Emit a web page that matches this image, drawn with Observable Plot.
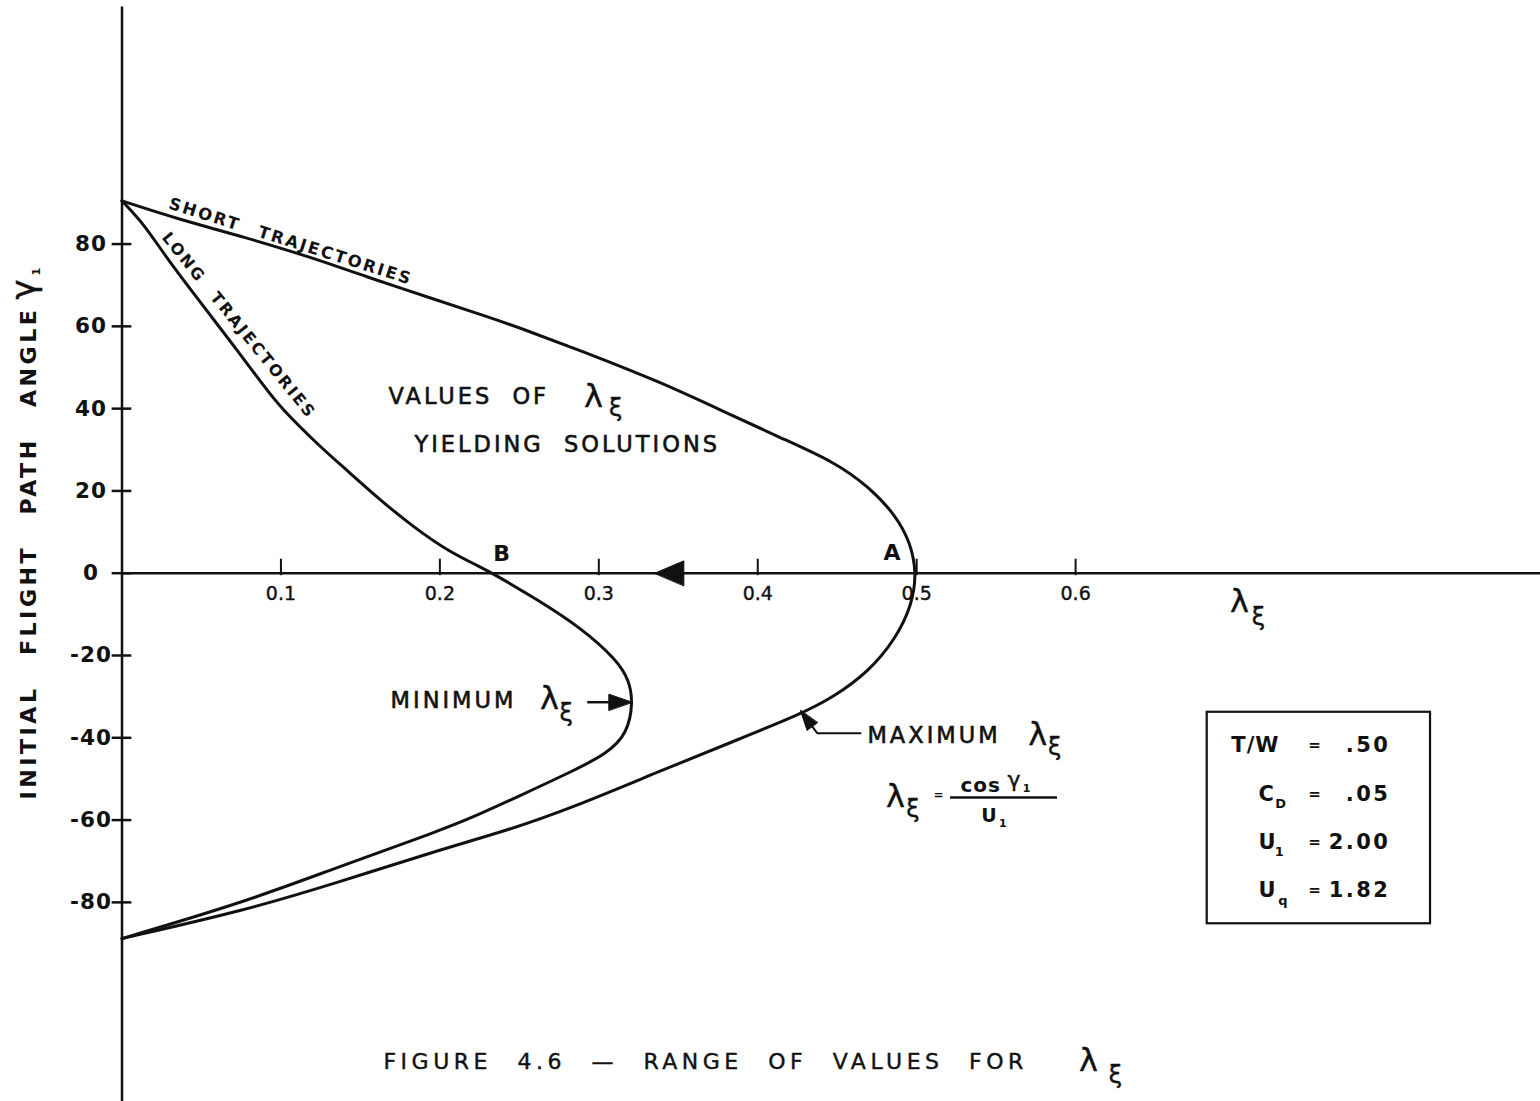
<!DOCTYPE html>
<html>
<head>
<meta charset="utf-8">
<script src="https://cdn.jsdelivr.net/npm/d3@7"></script>
<script src="https://cdn.jsdelivr.net/npm/@observablehq/plot@0.6"></script>
<style>
  html, body { margin: 0; padding: 0; background: #fff; }
  #chart { width: 1540px; height: 1101px; }
</style>
</head>
<body>
<div id="chart"></div>
<script>
// Maximum λξ boundary (short trajectories above the axis): λξ and initial path angle γ1 (deg)
const outerLambda = [0, 0.035, 0.077, 0.119, 0.154, 0.195, 0.231, 0.250, 0.296, 0.339, 0.377, 0.415, 0.448, 0.470, 0.487, 0.496, 0.500,
                     0.497, 0.487, 0.470, 0.447, 0.426, 0.389, 0.339, 0.284, 0.242, 0.200, 0.133, 0.077, 0];
const outerGamma  = [90.5, 86.1, 81.7, 76.8, 72.0, 66.8, 62.2, 59.7, 53.0, 46.4, 39.6, 32.8, 27.1, 21.0, 14.0, 7.5, 0,
                     -7.7, -15.8, -23.9, -30.3, -34.4, -40.2, -48, -56.9, -62.6, -67.2, -75.5, -82, -88.8];

// Minimum λξ boundary (long trajectories above the axis)
const innerLambda = [0, 0.0137, 0.0263, 0.0452, 0.0662, 0.0914, 0.0997, 0.1249, 0.1417, 0.1626, 0.1836, 0.2046, 0.2256, 0.233,
                     0.260, 0.289, 0.3116, 0.319, 0.3216, 0.318, 0.305, 0.284, 0.253, 0.221, 0.2004, 0.1333, 0.0766, 0];
const innerGamma  = [90.5, 84.9, 77.6, 67.9, 57.4, 44.4, 40.3, 30.6, 25.0, 17.7, 11.2, 5.5, 1.5, 0,
                     -6.1, -13.3, -21.2, -26, -31.3, -39, -43.9, -48, -53.6, -59.3, -62.5, -71.8, -80, -88.8];

// Axis ticks
const xTicks = [0.1, 0.2, 0.3, 0.4, 0.5, 0.6];
const yTicks = [-80, -60, -40, -20, 0, 20, 40, 60, 80];

// Parameters of the case
const paramNames  = ["T/W", "C", "U", "U"];
const paramSubs   = ["", "D", "1", "q"];
const paramValues = [0.50, 0.05, 2.00, 1.82];

const ink = "#111";
const outer = outerLambda.map((x, i) => ({x, y: outerGamma[i]}));
const inner = innerLambda.map((x, i) => ({x, y: innerGamma[i]}));
const params = paramNames.map((name, i) => ({
  name, sub: paramSubs[i],
  value: paramValues[i] < 1 ? "." + paramValues[i].toFixed(2).split(".")[1] : paramValues[i].toFixed(2)
}));

const T = (rows, opts) => Plot.text(rows, {x: "x", y: "y", text: "t", fill: ink, lineAnchor: "middle", ...opts});

// filled arrowheads (axis direction arrow and the two pointer arrows)
const heads = [
  {id: "axis", x: 0.3352, y: 0}, {id: "axis", x: 0.3535, y: 3.0}, {id: "axis", x: 0.3535, y: -3.0},
  {id: "min", x: 0.3210, y: -31.35}, {id: "min", x: 0.3063, y: -29.4}, {id: "min", x: 0.3063, y: -33.3},
  {id: "max", x: 0.42689, y: -33.37}, {id: "max", x: 0.43104, y: -38.2}, {id: "max", x: 0.43758, y: -36.35}
];
const maxShaft = [{x: 0.43434, y: -37.28}, {x: 0.43742, y: -38.88}, {x: 0.46468, y: -38.88}];

const lambdaXi = (x, y, big = 32, small = 24, ddx = 0.0125, ddy = -3.2) => [
  T([{x, y, t: "λ"}], {fontSize: big, stroke: ink, strokeWidth: 0.4}),
  T([{x: x + ddx, y: y + ddy, t: "ξ"}], {fontSize: small, stroke: ink, strokeWidth: 0.4})
];

const chart = Plot.plot({
  width: 1540,
  height: 1101,
  marginLeft: 121.5,
  marginRight: 0,
  marginTop: 0,
  marginBottom: 0,
  style: {fontFamily: "'DejaVu Sans', sans-serif", background: "#fff", color: ink},
  x: {domain: [0, 0.8925], axis: null},
  y: {domain: [-128.4, 139.2], axis: null},
  marks: [
    // axes
    Plot.ruleX([0], {y1: 137.6, y2: -128.4, stroke: ink, strokeWidth: 2.5}),
    Plot.ruleY([0], {x1: 0, x2: 0.8925, stroke: ink, strokeWidth: 2.5}),
    Plot.ruleY(yTicks, {x1: -0.0062, x2: 0.0062, stroke: ink, strokeWidth: 2.5}),
    Plot.ruleX(xTicks, {y1: -0.6, y2: 3.4, stroke: ink, strokeWidth: 2}),
    Plot.text(yTicks, {x: 0, y: d => d, text: d => String(d), dx: -31, textAnchor: "middle",
      fontSize: 21.5, fontWeight: "bold", fill: ink}),
    Plot.text(xTicks, {x: d => d, y: 0, text: d => d.toFixed(1), dy: 21, fontSize: 19,
      fill: ink, stroke: ink, strokeWidth: 0.4}),

    // axis titles
    T([{x: -0.0585, y: 4.9, t: "INITIAL FLIGHT PATH ANGLE"}], {rotate: -90, fontSize: 22, fontWeight: "bold"}),
    T([{x: -0.0613, y: 69.0, t: "γ"}], {rotate: -90, fontSize: 34, stroke: ink, strokeWidth: 0.5}),
    T([{x: -0.0540, y: 73.4, t: "1"}], {rotate: -90, fontSize: 11, fontWeight: "bold"}),
    ...lambdaXi(0.7031, -6.9, 32, 24, 0.012, -3.7),

    // boundary curves, smoothed like a french-curve tracing
    Plot.line(outer, {x: "x", y: "y", curve: "basis", stroke: ink, strokeWidth: 3}),
    Plot.line(inner, {x: "x", y: "y", curve: "basis", stroke: ink, strokeWidth: 3}),

    // arrows
    Plot.line(heads, {x: "x", y: "y", z: "id", curve: "linear-closed", fill: ink, stroke: ink, strokeWidth: 1}),
    Plot.link([{}], {x1: 0.2927, y1: -31.35, x2: 0.3063, y2: -31.35, stroke: ink, strokeWidth: 2.5}),
    Plot.line(maxShaft, {x: "x", y: "y", stroke: ink, strokeWidth: 2}),

    // curve names along the boundaries
    T([{x: 0.1062, y: 80.6, t: "SHORT TRAJECTORIES"}], {rotate: 17.5, fontSize: 16.5, fontWeight: "bold"}),
    T([{x: 0.0735, y: 60.2, t: "LONG TRAJECTORIES"}], {rotate: 51, fontSize: 16, fontWeight: "bold"}),

    // region and boundary notes
    T([
      {x: 0.1677, y: 42.8, t: "VALUES OF"},
      {x: 0.1840, y: 31.3, t: "YIELDING SOLUTIONS"},
      {x: 0.1690, y: -31.1, t: "MINIMUM"},
      {x: 0.4690, y: -39.4, t: "MAXIMUM"}
    ], {textAnchor: "start", fontSize: 22.5, stroke: ink, strokeWidth: 0.6}),
    ...lambdaXi(0.2966, 42.9, 32, 24, 0.014, -2.9),
    ...lambdaXi(0.2690, -30.5, 32, 24, 0.0105, -3.6),
    ...lambdaXi(0.5761, -39.3, 32, 24, 0.0108, -3.1),
    T([{x: 0.2388, y: 4.8, t: "B"}, {x: 0.4845, y: 4.9, t: "A"}], {fontSize: 22, fontWeight: "bold"}),

    // λξ = cos γ1 / U1
    ...lambdaXi(0.4867, -54.4, 32, 24, 0.011, -3.1),
    T([{x: 0.5137, y: -54.0, t: "="}], {fontSize: 12, fontWeight: "bold"}),
    T([{x: 0.5275, y: -51.6, t: "cos"}], {textAnchor: "start", fontSize: 20, fontWeight: "bold"}),
    T([{x: 0.5612, y: -50.3, t: "γ"}], {fontSize: 22, stroke: ink, strokeWidth: 0.4}),
    T([{x: 0.5695, y: -52.4, t: "1"}, {x: 0.5545, y: -60.8, t: "1"}], {fontSize: 11, fontWeight: "bold"}),
    Plot.ruleY([-54.5], {x1: 0.5213, x2: 0.5886, stroke: ink, strokeWidth: 2.5}),
    T([{x: 0.5455, y: -58.9, t: "U"}], {fontSize: 19, fontWeight: "bold"}),

    // parameter box
    Plot.rect([{}], {x1: 0.6828, x2: 0.8233, y1: -33.8, y2: -85.2, fill: "none", stroke: ink, strokeWidth: 2.2}),
    Plot.text(params, {x: (d, i) => i === 0 ? 0.6980 : 0.7150, y: (d, i) => -41.9 - i * 11.75, text: "name",
      textAnchor: "start", lineAnchor: "middle", fontSize: 21, fontWeight: "bold", fill: ink}),
    Plot.text(params, {x: (d, i) => [0, 0.7290, 0.7285, 0.7305][i], y: (d, i) => -41.9 - i * 11.75 - 2.4, text: "sub",
      lineAnchor: "middle", fontSize: 13, fontWeight: "bold", fill: ink}),
    Plot.text(params, {x: 0.7503, y: (d, i) => -41.9 - i * 11.75, text: () => "=",
      lineAnchor: "middle", fontSize: 15, fontWeight: "bold", fill: ink}),
    Plot.text(params, {x: 0.7981, y: (d, i) => -41.9 - i * 11.75, text: "value",
      textAnchor: "end", lineAnchor: "middle", fontSize: 21, fontWeight: "bold", fill: ink}),

    // figure caption
    T([{x: 0.1645, y: -118.9, t: "FIGURE 4.6 — RANGE OF VALUES FOR"}], {textAnchor: "start", fontSize: 22,
      stroke: ink, strokeWidth: 0.4}),
    ...lambdaXi(0.6081, -118.4, 32, 24, 0.017, -3.6)
  ]
});

// Hand-lettered spacing: letter and word spacing for the wide-set labels
const spacing = new Map([
  ["INITIAL FLIGHT PATH ANGLE", [3.6, 19]],
  ["SHORT TRAJECTORIES", [2.3, 11]],
  ["LONG TRAJECTORIES", [2.3, 10]],
  ["VALUES OF", [3, 10]],
  ["YIELDING SOLUTIONS", [3, 10]],
  ["MINIMUM", [3, 0]],
  ["MAXIMUM", [3, 0]],
  ["FIGURE 4.6 — RANGE OF VALUES FOR", [4.5, 14]],
  ["cos", [1, 0]],
  [".50", [2.5, 0]], [".05", [2.5, 0]], ["2.00", [2.5, 0]], ["1.82", [2.5, 0]],
  ["T/W", [1, 0]]
]);
d3.select(chart).selectAll("text").each(function () {
  const s = spacing.get(this.textContent);
  if (s) {
    this.style.letterSpacing = s[0] + "px";
    if (s[1]) this.style.wordSpacing = s[1] + "px";
  } else if (/^-?\d+$/.test(this.textContent)) {
    this.style.letterSpacing = "1px";
  }
});

document.getElementById("chart").appendChild(chart);
</script>
</body>
</html>
